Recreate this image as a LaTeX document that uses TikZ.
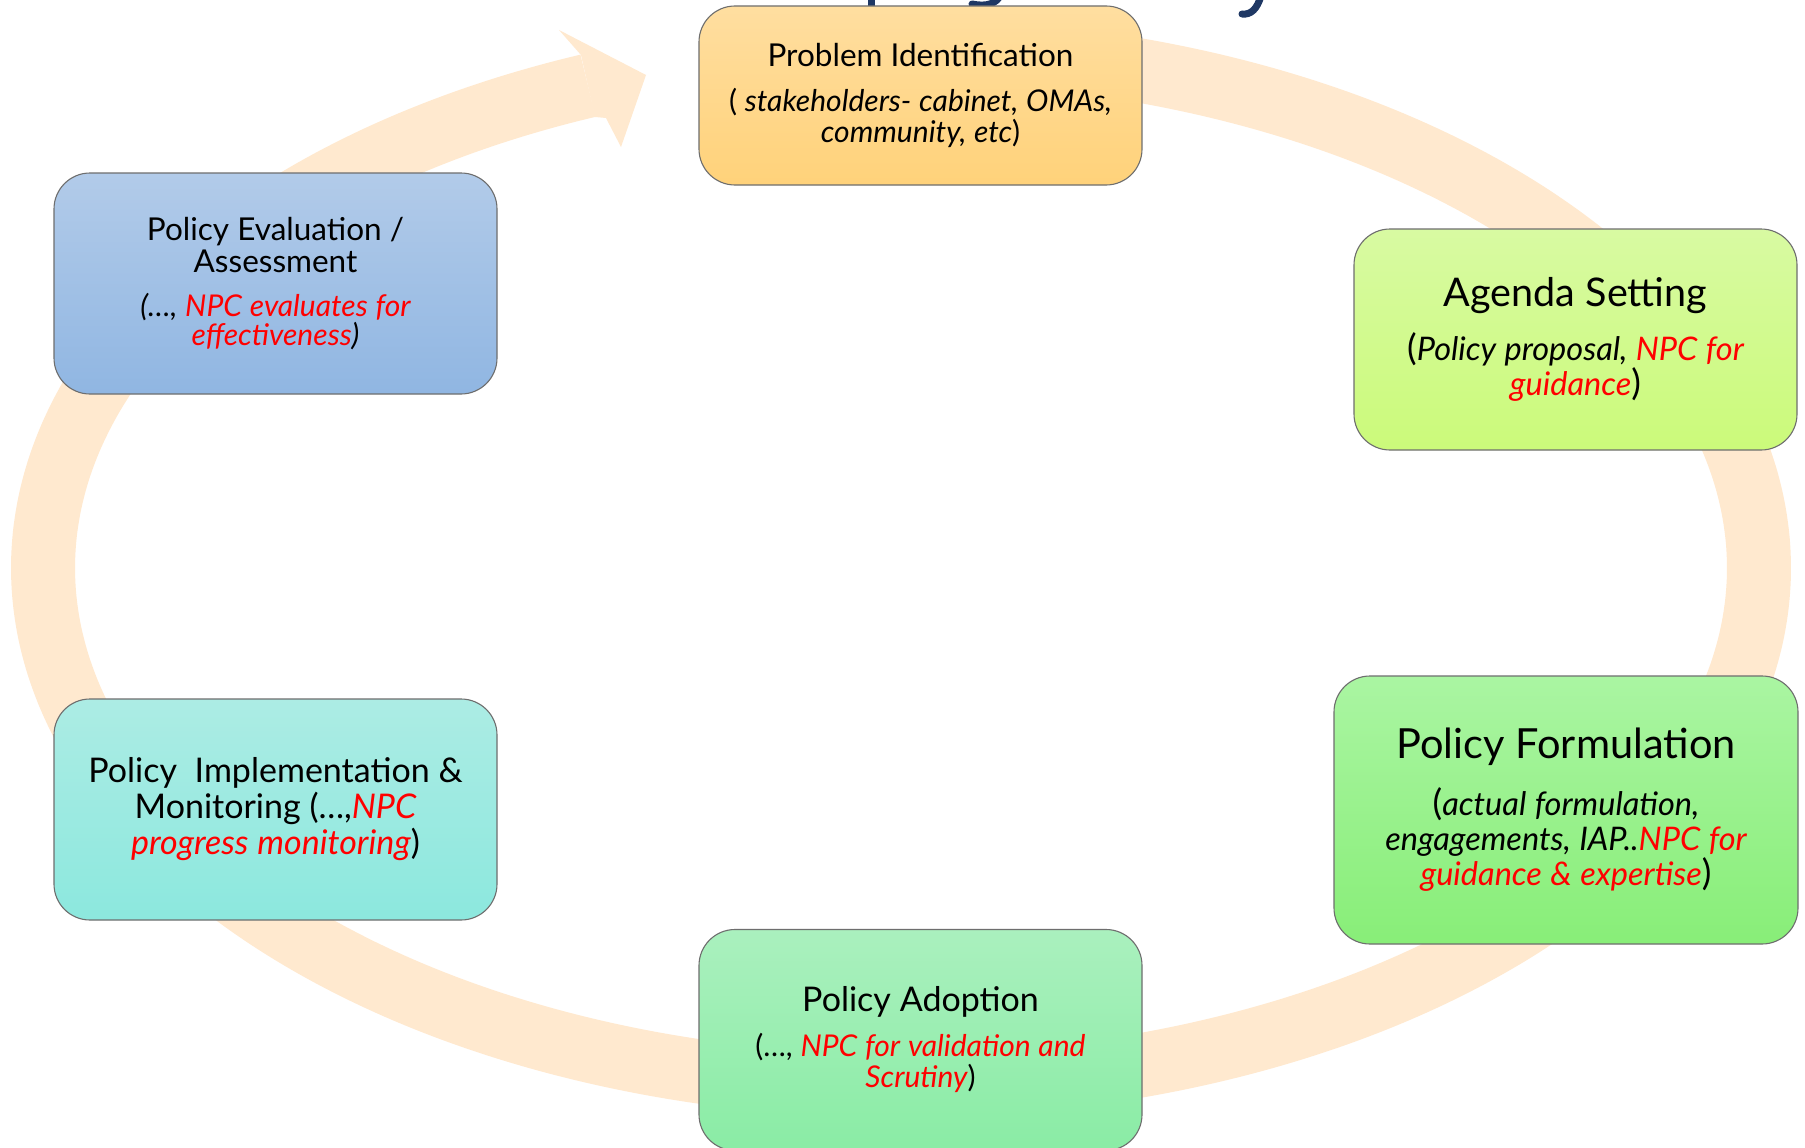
\documentclass[tikz,border=0pt]{standalone}
\usepackage{fontspec}
\setmainfont{Lato}
\newcommand\fs[2]{\fontsize{#1}{#2}\selectfont\spaceskip=0.26em\relax\xspaceskip=\spaceskip}
\definecolor{bandcol}{RGB}{255,233,207}
\definecolor{npcred}{RGB}{255,0,0}
\definecolor{bordergray}{RGB}{110,110,110}
\definecolor{navy}{RGB}{31,56,100}
\definecolor{pTop}{RGB}{255,222,160}
\definecolor{pBot}{RGB}{255,210,122}
\definecolor{agTop}{RGB}{216,250,162}
\definecolor{agBot}{RGB}{203,250,122}
\definecolor{fTop}{RGB}{170,245,162}
\definecolor{fBot}{RGB}{136,238,120}
\definecolor{adTop}{RGB}{170,240,190}
\definecolor{adBot}{RGB}{138,236,165}
\definecolor{imTop}{RGB}{172,236,228}
\definecolor{imBot}{RGB}{140,232,222}
\definecolor{evTop}{RGB}{178,203,233}
\definecolor{evBot}{RGB}{144,182,226}
\tikzset{
  stage/.style={draw=bordergray, line width=1.1pt, rounded corners=36pt,
    minimum width=443pt, minimum height=221pt, inner sep=0pt,
    text width=436pt, align=center},
  band/.style={draw=bandcol, line width=64pt},
  frag/.style={draw=navy, line width=7pt}
}
\begin{document}
\begin{tikzpicture}[x=1pt,y=-1pt]
\useasboundingbox (0,0) rectangle (1805,1148);
\fill[white] (0,0) rectangle (1805,1148);
% title fragments (cut off at top)
\draw[frag] (871,-5) -- (871,12);
\draw[frag, line cap=round] (1001,-6) .. controls (997,4) and (986,7) .. (972,4);
\draw[frag, line cap=round] (1261,-4) .. controls (1257,9) and (1251,15) .. (1242,14);
% cycle band
\draw[band] plot[domain=-248.6:80, samples=240, smooth] ({901+858*cos(\x)}, {568-518*sin(\x)});
\fill[bandcol] (581,55) -- (559,30) -- (646,75) -- (621,147) -- (606,118) -- (595,117) -- cycle;
% stages
\node[stage, minimum height=179pt, top color=pTop, bottom color=pBot] (prob) at (920.5,95.5)
 {{\fs{31.5}{34}Problem Identification\par}\vspace{14pt}
  {\fs{30}{31}(\ \textit{stakeholders- cabinet, OMAs,}\\\textit{community, etc})\par}};
\node[stage, top color=agTop, bottom color=agBot] (agenda) at (1575.5,339.5)
 {{\fs{39.5}{40}Agenda Setting\par}\vspace{18pt}
  {\fs{32.5}{35}{\fontsize{36}{35}\selectfont(}\textit{Policy proposal, \textcolor{npcred}{NPC for}}\\\textit{\textcolor{npcred}{guidance}}{\fontsize{36}{35}\selectfont)}\par}};
\node[stage, minimum width=464pt, minimum height=268pt, top color=fTop, bottom color=fBot] (form) at (1566,810)
 {{\fs{41.5}{42}Policy Formulation\par}\vspace{21pt}
  {\fs{32.5}{35}{\fontsize{36}{35}\selectfont(}\textit{actual formulation,}\\\textit{engagements, IAP..\textcolor{npcred}{NPC for}}\\\textit{\textcolor{npcred}{guidance \& expertise}}{\fontsize{36}{35}\selectfont)}\par}};
\node[stage, top color=adTop, bottom color=adBot] (adopt) at (920.5,1040)
 {{\fs{34}{34}Policy Adoption\par}\vspace{14pt}
  {\fs{30}{31}(…, \textit{\textcolor{npcred}{NPC for validation and}}\\\textit{\textcolor{npcred}{Scrutiny}})\par}};
\node[stage, top color=imTop, bottom color=imBot] (impl) at (275.5,809.5)
 {{\fs{34}{36}Policy\ \ Implementation \&\\Monitoring (…,\textit{\textcolor{npcred}{NPC}}\\\textit{\textcolor{npcred}{progress monitoring}})\par}};
\node[stage, top color=evTop, bottom color=evBot] (eval) at (275.5,283.5)
 {{\fs{31.5}{32}Policy Evaluation /\\Assessment\par}\vspace{15pt}
  {\fs{30}{29}\itshape (…, \textcolor{npcred}{NPC evaluates for}\\\textcolor{npcred}{effectiveness})\par}};
\end{tikzpicture}
\end{document}
